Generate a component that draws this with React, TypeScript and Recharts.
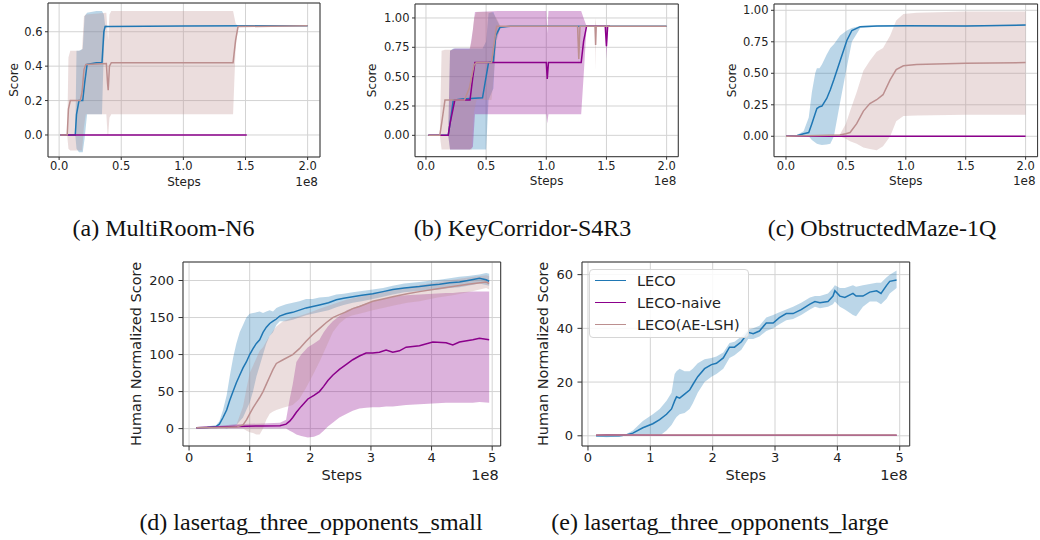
import React from 'react';
import { ComposedChart, Line, Area, XAxis, YAxis, CartesianGrid, Legend, ReferenceLine } from 'recharts';

type Row = [number, number, number, number]; // [steps(1e8), mean, lower, upper]

const SERIES_NAMES = ['LECO', 'LECO-naive', 'LECO(AE-LSH)'];
const SERIES_COLORS = ['#1f77b4', '#8b008b', '#bc8f8f'];

// (a) MultiRoom-N6
const multiRoomLeco: Row[] = [
  [0.01, 0, 0, 0], [0.13, 0, 0, 0], [0.14, 0.12, -0.08, 0.49], [0.16, 0.2, -0.1, 0.49],
  [0.19, 0.2, -0.1, 0.5], [0.205, 0.3, -0.02, 0.69], [0.225, 0.41, 0.12, 0.71], [0.3, 0.42, 0.12, 0.72],
  [0.345, 0.42, 0.12, 0.72], [0.36, 0.6, 0.5, 0.7], [0.37, 0.63, 0.62, 0.64], [0.4, 0.63, 0.63, 0.63],
  [1.0, 0.634, 0.634, 0.634], [2.0, 0.635, 0.635, 0.635],
];
const multiRoomNaive: Row[] = [[0.01, 0, 0, 0], [1.51, 0, 0, 0]];
const multiRoomAe: Row[] = [
  [0.01, 0, 0, 0], [0.065, 0, 0, 0], [0.075, 0.15, -0.08, 0.45], [0.09, 0.2, -0.09, 0.49],
  [0.17, 0.2, -0.09, 0.49], [0.185, 0.25, -0.09, 0.5], [0.2, 0.38, 0.05, 0.69], [0.215, 0.41, 0.12, 0.7],
  [0.38, 0.415, 0.12, 0.71], [0.39, 0.3, 0.0, 0.6], [0.395, 0.26, 0.0, 0.55], [0.405, 0.4, 0.1, 0.7],
  [0.42, 0.42, 0.12, 0.72], [1.0, 0.42, 0.12, 0.72], [1.4, 0.42, 0.12, 0.72], [1.42, 0.55, 0.5, 0.65],
  [1.44, 0.63, 0.63, 0.63], [2.0, 0.635, 0.635, 0.635],
];

// (b) KeyCorridor-S4R3
const keyLeco: Row[] = [
  [0.02, 0, 0, 0], [0.185, 0, 0, 0], [0.2, 0.1, -0.12, 0.72], [0.227, 0.3, -0.12, 0.74],
  [0.3, 0.31, -0.12, 0.74], [0.47, 0.32, -0.12, 0.74], [0.5, 0.5, -0.12, 0.8], [0.52, 0.62, 0.3, 1.04],
  [0.56, 0.63, 0.4, 1.05], [0.58, 0.85, 0.8, 1.0], [0.615, 0.92, 0.91, 0.93], [0.7, 0.93, 0.93, 0.93],
  [2.0, 0.93, 0.93, 0.93],
];
const keyNaive: Row[] = [
  [0.02, 0, 0, 0], [0.185, 0, 0, 0], [0.2, 0.1, -0.12, 0.72], [0.24, 0.3, -0.12, 0.74],
  [0.366, 0.3, -0.12, 0.74], [0.39, 0.5, -0.1, 0.9], [0.407, 0.62, 0.18, 1.05], [0.6, 0.62, 0.18, 1.06],
  [1.0, 0.62, 0.18, 1.06], [1.008, 0.48, 0.1, 0.87], [1.018, 0.62, 0.18, 1.06], [1.29, 0.62, 0.18, 1.06],
  [1.31, 0.8, 0.5, 1.0], [1.335, 0.93, 0.93, 0.93], [1.49, 0.93, 0.93, 0.93], [1.5, 0.76, 0.65, 0.93],
  [1.51, 0.93, 0.93, 0.93], [1.53, 0.93, 0.93, 0.93],
];
const keyAe: Row[] = [
  [0.02, 0, 0, 0], [0.115, 0, 0, 0], [0.13, 0.1, -0.12, 0.72], [0.158, 0.3, -0.12, 0.73],
  [0.32, 0.3, -0.12, 0.73], [0.36, 0.4, -0.12, 0.73], [0.38, 0.5, -0.12, 0.8], [0.4, 0.6, 0.2, 1.0],
  [0.42, 0.62, 0.3, 1.05], [0.545, 0.62, 0.3, 1.05], [0.587, 0.93, 0.8, 1.0], [0.62, 0.93, 0.93, 0.93],
  [1.26, 0.93, 0.93, 0.93], [1.27, 0.65, 0.6, 0.93], [1.28, 0.93, 0.93, 0.93], [1.405, 0.93, 0.93, 0.93],
  [1.41, 0.77, 0.55, 1.0], [1.415, 0.93, 0.93, 0.93], [2.0, 0.93, 0.93, 0.93],
];

// (c) ObstructedMaze-1Q
const obsLeco: Row[] = [
  [0, 0, 0, 0], [0.09, 0.005, 0, 0.01], [0.147, 0.02, 0.0, 0.04], [0.19, 0.03, 0.0, 0.15],
  [0.216, 0.1, -0.03, 0.35], [0.244, 0.18, -0.05, 0.5], [0.258, 0.22, -0.06, 0.54], [0.28, 0.235, -0.065, 0.54],
  [0.3, 0.24, -0.07, 0.57], [0.34, 0.3, -0.065, 0.65], [0.37, 0.37, -0.06, 0.7], [0.4, 0.45, 0.0, 0.73],
  [0.452, 0.6, 0.27, 0.8], [0.508, 0.76, 0.55, 0.84], [0.55, 0.84, 0.75, 0.86], [0.62, 0.87, 0.86, 0.875],
  [0.76, 0.875, 0.87, 0.88], [1.0, 0.877, 0.872, 0.882], [1.5, 0.876, 0.872, 0.88], [2.0, 0.883, 0.878, 0.888],
];
const obsNaive: Row[] = [[0, 0, 0, 0], [2.0, 0, 0, 0]];
const obsAe: Row[] = [
  [0, 0, 0, 0], [0.45, 0.01, 0.0, 0.015], [0.5, 0.02, -0.02, 0.1], [0.535, 0.03, -0.04, 0.2],
  [0.59, 0.1, -0.06, 0.35], [0.646, 0.2, -0.09, 0.52], [0.7, 0.26, -0.1, 0.6], [0.757, 0.29, -0.11, 0.67],
  [0.81, 0.33, -0.08, 0.7], [0.87, 0.45, 0.0, 0.8], [0.92, 0.53, 0.12, 0.92], [0.98, 0.56, 0.16, 0.97],
  [1.09, 0.57, 0.165, 0.98], [1.5, 0.58, 0.17, 0.99], [2.0, 0.585, 0.17, 0.99],
];

// (d) lasertag_three_opponents_small
const smallLeco: Row[] = [
  [0.12, 1, 0, 2], [0.3, 1.5, 0, 3], [0.45, 3, 0, 5], [0.5, 6, 1, 10], [0.56, 15, 1, 25], [0.62, 25, 0, 45],
  [0.67, 38, 1, 70], [0.725, 50, 3, 95], [0.78, 62, 5, 115], [0.835, 72, 10, 130], [0.89, 82, 15, 140],
  [0.945, 90, 25, 150], [1.0, 100, 35, 155], [1.055, 108, 50, 156], [1.11, 115, 70, 157], [1.165, 120, 85, 158],
  [1.22, 130, 100, 156], [1.275, 137, 115, 158], [1.33, 142, 125, 160], [1.385, 145, 130, 158], [1.44, 148, 140, 163],
  [1.495, 152, 145, 165], [1.6, 155, 145, 168], [1.71, 157, 147, 170], [1.82, 160, 150, 172], [1.93, 163, 153, 175],
  [2.04, 165, 155, 175], [2.15, 167, 157, 177], [2.3, 170, 160, 178], [2.43, 174, 164, 181], [2.55, 176, 167, 182],
  [2.7, 178, 170, 184], [2.85, 180, 172, 186], [3.03, 182, 175, 188], [3.2, 185, 178, 190], [3.36, 188, 181, 193],
  [3.55, 190, 184, 196], [3.8, 192, 186, 198], [4.0, 194, 187, 200], [4.13, 195, 188, 201], [4.3, 197, 190, 203],
  [4.46, 198, 191, 205], [4.6, 200, 193, 206], [4.79, 203, 196, 208], [4.9, 201, 194, 210], [4.95, 199, 193, 209],
];
const smallNaive: Row[] = [
  [0.12, 1, 0, 2], [0.5, 2, 0, 4], [0.78, 3, 0, 6], [1.2, 3.5, 0, 7], [1.5, 4, 0, 8], [1.6, 6, 0, 12],
  [1.66, 10, -3, 40], [1.71, 15, -5, 60], [1.77, 22, -8, 90], [1.85, 30, -10, 100], [1.96, 40, -12, 110],
  [2.06, 45, -11, 115], [2.15, 50, -8, 120], [2.22, 57, -3, 130], [2.29, 65, 3, 138], [2.37, 72, 8, 145],
  [2.48, 80, 15, 152], [2.6, 87, 20, 160], [2.7, 93, 24, 163], [2.81, 98, 27, 166], [2.92, 102, 28, 169],
  [3.03, 102, 29, 172], [3.14, 103, 29, 174], [3.25, 106, 30, 176], [3.36, 103, 30, 178], [3.47, 105, 31, 179],
  [3.58, 110, 32, 180], [3.8, 112, 33, 181], [4.02, 117, 34, 182], [4.24, 116, 35, 183], [4.35, 113, 35, 183],
  [4.46, 117, 35, 184], [4.68, 120, 35, 185], [4.79, 122, 36, 185], [4.95, 120, 35, 185],
];
const smallAe: Row[] = [
  [0.12, 1, 0, 2], [0.5, 1.5, 0, 3], [0.78, 2, 0, 5], [0.89, 5, 0, 30], [0.95, 12, -3, 55], [1.0, 20, -5, 75],
  [1.055, 28, -6, 85], [1.11, 35, -8, 95], [1.165, 42, -8, 105], [1.22, 50, 0, 110], [1.275, 60, 12, 118],
  [1.33, 70, 20, 125], [1.385, 80, 23, 132], [1.44, 88, 25, 138], [1.55, 93, 28, 145], [1.71, 100, 32, 150],
  [1.82, 108, 40, 152], [1.93, 118, 55, 155], [2.04, 127, 72, 158], [2.15, 135, 90, 162], [2.26, 143, 110, 165],
  [2.37, 150, 130, 168], [2.48, 154, 142, 171], [2.6, 158, 150, 174], [2.7, 162, 153, 176], [2.81, 165, 155, 178],
  [3.03, 172, 160, 182], [3.2, 175, 163, 185], [3.36, 178, 166, 188], [3.6, 182, 170, 191], [3.8, 185, 172, 194],
  [4.1, 189, 177, 198], [4.35, 192, 180, 201], [4.6, 195, 184, 204], [4.9, 198, 190, 207], [4.95, 196, 188, 206],
];

// (e) lasertag_three_opponents_large
const largeLeco: Row[] = [
  [0.13, 0, -0.3, 0.3], [0.3, 0, -0.5, 0.4], [0.5, 0, -0.3, 0.3], [0.61, 0.3, 0, 0.6], [0.72, 1, 0, 2],
  [0.88, 3, 0.3, 5.5], [1.04, 4.5, 0.5, 8], [1.15, 6, 0, 10], [1.26, 8, 2, 13], [1.34, 10, 4, 16],
  [1.39, 13, 6, 23], [1.42, 14.5, 7, 24], [1.47, 14, 8, 25], [1.55, 15.5, 8.5, 24], [1.63, 17, 10, 24],
  [1.68, 19, 12, 25], [1.76, 22, 16, 27], [1.87, 25, 20, 28.5], [1.98, 26.5, 22, 29], [2.06, 27, 23, 29.5],
  [2.17, 29, 25, 31], [2.27, 33, 29, 34.5], [2.35, 33, 30, 35], [2.46, 35, 32, 37], [2.57, 38.5, 36, 39.5],
  [2.65, 38, 36, 40], [2.75, 39, 37, 41], [2.86, 42, 39, 44], [2.97, 42, 40, 45], [3.07, 44, 41.5, 46],
  [3.18, 45.5, 43, 47], [3.29, 45.5, 43.5, 48], [3.42, 47, 45, 49.5], [3.56, 49, 47, 51.5], [3.64, 50, 48, 52],
  [3.72, 49.5, 47.5, 52], [3.85, 50, 48, 53], [3.93, 52, 49, 55], [3.96, 54, 50, 56], [4.04, 52, 48, 55],
  [4.12, 51.5, 47, 55], [4.25, 53, 45, 56], [4.3, 52, 44.5, 55.5], [4.41, 52, 48, 56], [4.52, 53.5, 50, 56.5],
  [4.63, 54, 50, 57], [4.7, 53, 49, 57], [4.79, 56, 51, 59], [4.84, 57.5, 53, 60], [4.95, 58, 55, 61.5],
];
const largeNaive: Row[] = [[0.13, 0.2, 0.1, 0.3], [0.3, 0.4, 0.2, 0.6], [0.6, 0.3, 0.1, 0.5], [1.2, 0.2, 0.1, 0.3], [4.95, 0.2, 0.1, 0.3]];
const largeAe: Row[] = [[0.13, 0.25, 0.15, 0.35], [4.95, 0.25, 0.15, 0.35]];

// ticks
const stepTicksShort = [0, 0.5, 1.0, 1.5, 2.0];
const stepTicksLong = [0, 1, 2, 3, 4, 5];
const multiRoomYTicks = [0, 0.2, 0.4, 0.6];
const scoreYTicks = [0, 0.25, 0.5, 0.75, 1.0];
const smallYTicks = [0, 50, 100, 150, 200];
const largeYTicks = [0, 20, 40, 60];

const CAPTIONS = [
  '(a) MultiRoom-N6',
  '(b) KeyCorridor-S4R3',
  '(c) ObstructedMaze-1Q',
  '(d) lasertag_three_opponents_small',
  '(e) lasertag_three_opponents_large',
];

const toRows = (r: Row[]) => r.map(([x, m, lo, hi]) => ({ x, mean: m, band: [lo, hi] }));

const FONT = '"DejaVu Sans", sans-serif';

const LegendBox = (props: any) => {
  const items = (props.payload || [])
    .filter((p: any) => p.type !== 'none' && SERIES_NAMES.includes(p.value))
    .sort((a: any, b: any) => SERIES_NAMES.indexOf(a.value) - SERIES_NAMES.indexOf(b.value));
  return (
    <div
      style={{
        border: '1px solid #d6d6d6',
        borderRadius: 4,
        background: 'rgba(255,255,255,0.85)',
        padding: '0px 8px 1px 5px',
        fontSize: 14.5,
        fontFamily: FONT,
        color: '#222',
      }}
    >
      {items.map((it: any) => (
        <div key={it.value} style={{ display: 'flex', alignItems: 'center', height: 22, whiteSpace: 'nowrap' }}>
          <span style={{ display: 'inline-block', width: 31, height: 0, borderTop: `1.6px solid ${it.color}`, marginRight: 11 }} />
          <span>{it.value}</span>
        </div>
      ))}
    </div>
  );
};

type Cfg = {
  L: number; T: number; R: number; B: number;
  xDomain: [number, number]; yDomain: [number, number];
  xTicks: number[]; yTicks: number[];
  xFmt: (v: number) => string; yFmt: (v: number) => string;
  tickFs: number; labelFs: number; tickSize: number; xMargin: number; yMargin: number;
  yLabel: string; yLabelOff: number; stepsOff: number;
  series: Row[][]; legend?: boolean;
};

const Panel = ({ c }: { c: Cfg }) => {
  const yw = 60, mt = 10, mr = 2, xh = 45;
  const width = c.R - c.L + yw + mr;
  const height = c.B - c.T + mt + xh;
  const rows = c.series.map(toRows);
  const tickStyle = { fill: '#222', fontSize: c.tickFs, fontFamily: FONT };
  const xLabel = (p: any) => {
    const vb = p.viewBox;
    return (
      <g fontFamily={FONT} fontSize={c.labelFs} fill="#222">
        <text x={vb.x + vb.width / 2} y={vb.y + c.stepsOff} textAnchor="middle" dominantBaseline="central">Steps</text>
        <text x={vb.x + vb.width - 2} y={vb.y + c.stepsOff} textAnchor="end" dominantBaseline="central">1e8</text>
      </g>
    );
  };
  const yLabel = (p: any) => {
    const vb = p.viewBox;
    const x = vb.x + vb.width - c.yLabelOff;
    const y = vb.y + vb.height / 2;
    return (
      <text x={x} y={y} transform={`rotate(-90 ${x} ${y})`} textAnchor="middle" dominantBaseline="central"
        fontFamily={FONT} fontSize={c.labelFs} fill="#222">{c.yLabel}</text>
    );
  };
  return (
    <div style={{ position: 'absolute', left: c.L - yw, top: c.T - mt, width, height }}>
      <ComposedChart width={width} height={height} margin={{ top: mt, right: mr, left: 0, bottom: 0 }}>
        <CartesianGrid stroke="#d3d3d3" strokeWidth={1} />
        <XAxis dataKey="x" type="number" domain={c.xDomain} allowDataOverflow ticks={c.xTicks} interval={0}
          tickFormatter={c.xFmt} height={xh} tickSize={c.tickSize} tickMargin={c.xMargin} stroke="#333"
          tick={tickStyle} label={xLabel} />
        <YAxis type="number" domain={c.yDomain} allowDataOverflow ticks={c.yTicks} interval={0}
          tickFormatter={c.yFmt} width={yw} tickSize={c.tickSize} tickMargin={c.yMargin} stroke="#333"
          tick={tickStyle} label={yLabel} />
        {rows.map((d, i) => (
          <Area key={'a' + i} data={d} dataKey="band" type="linear" stroke="none" fill={SERIES_COLORS[i]}
            fillOpacity={0.3} isAnimationActive={false} legendType="none" dot={false} activeDot={false} />
        ))}
        {rows.map((d, i) => (
          <Line key={'l' + i} data={d} dataKey="mean" name={SERIES_NAMES[i]} type="linear" stroke={SERIES_COLORS[i]}
            strokeWidth={1.5} dot={false} activeDot={false} isAnimationActive={false} />
        ))}
        <ReferenceLine y={c.yDomain[1]} stroke="#333" strokeWidth={1} ifOverflow="visible" />
        <ReferenceLine x={c.xDomain[1]} stroke="#333" strokeWidth={1} ifOverflow="visible" />
        {c.legend && (
          <Legend layout="vertical" align="center" verticalAlign="middle" content={<LegendBox />}
            wrapperStyle={{ left: yw + 6.7, top: mt + 7.3, width: 'auto', height: 'auto' }} />
        )}
      </ComposedChart>
    </div>
  );
};

const f1 = (v: number) => v.toFixed(1);
const f2 = (v: number) => v.toFixed(2);
const f0 = (v: number) => String(v);

const top = { tickFs: 11.5, labelFs: 12, tickSize: 3, xMargin: 2, yMargin: 2.5, stepsOff: 24.7 };
const bottom = { tickFs: 13, labelFs: 14.5, tickSize: 4.5, xMargin: 2, yMargin: 4.5, stepsOff: 29.3 };

const panels: Cfg[] = [
  { ...top, L: 48, T: 3, R: 320, B: 157, xDomain: [-0.0895, 2.0995], yDomain: [-0.128, 0.767],
    xTicks: stepTicksShort, yTicks: multiRoomYTicks, xFmt: f1, yFmt: f1, yLabel: 'Score', yLabelOff: 34,
    series: [multiRoomLeco, multiRoomNaive, multiRoomAe] },
  { ...top, L: 415, T: 4, R: 678.3, B: 156.7, xDomain: [-0.091, 2.097], yDomain: [-0.182, 1.119],
    xTicks: stepTicksShort, yTicks: scoreYTicks, xFmt: f1, yFmt: f2, yLabel: 'Score', yLabelOff: 42.7,
    series: [keyLeco, keyNaive, keyAe] },
  { ...top, L: 774, T: 4, R: 1037.6, B: 156.7, xDomain: [-0.1, 2.1], yDomain: [-0.162, 1.05],
    xTicks: stepTicksShort, yTicks: scoreYTicks, xFmt: f1, yFmt: f2, yLabel: 'Score', yLabelOff: 41.7,
    series: [obsLeco, obsNaive, obsAe] },
  { ...bottom, L: 183.3, T: 261.7, R: 501, B: 445.7, xDomain: [-0.1, 5.14], yDomain: [-23.5, 225],
    xTicks: stepTicksLong, yTicks: smallYTicks, xFmt: f0, yFmt: f0, yLabel: 'Human Normalized Score', yLabelOff: 46.6,
    series: [smallLeco, smallNaive, smallAe] },
  { ...bottom, L: 582.3, T: 261.7, R: 910, B: 445.7, xDomain: [-0.096, 5.16], yDomain: [-3.8, 64.7],
    xTicks: stepTicksLong, yTicks: largeYTicks, xFmt: f0, yFmt: f0, yLabel: 'Human Normalized Score', yLabelOff: 39,
    series: [largeLeco, largeNaive, largeAe], legend: true },
];

const captionPos = [
  { cx: 163.5, top: 216 },
  { cx: 522.5, top: 216 },
  { cx: 882, top: 216 },
  { cx: 311, top: 510 },
  { cx: 720, top: 510 },
];

export default function App() {
  return (
    <div style={{ position: 'absolute', left: 0, top: 0, width: 1040, height: 540, overflow: 'hidden', background: '#fff' }}>
      {panels.map((p, i) => <Panel key={i} c={p} />)}
      {CAPTIONS.map((t, i) => (
        <div key={t} style={{
          position: 'absolute', left: captionPos[i].cx - 250, top: captionPos[i].top, width: 500,
          textAlign: 'center', fontFamily: '"Liberation Serif", "Times New Roman", serif', fontSize: 24,
          lineHeight: '24px', color: '#111', whiteSpace: 'nowrap',
        }}>{t}</div>
      ))}
    </div>
  );
}
